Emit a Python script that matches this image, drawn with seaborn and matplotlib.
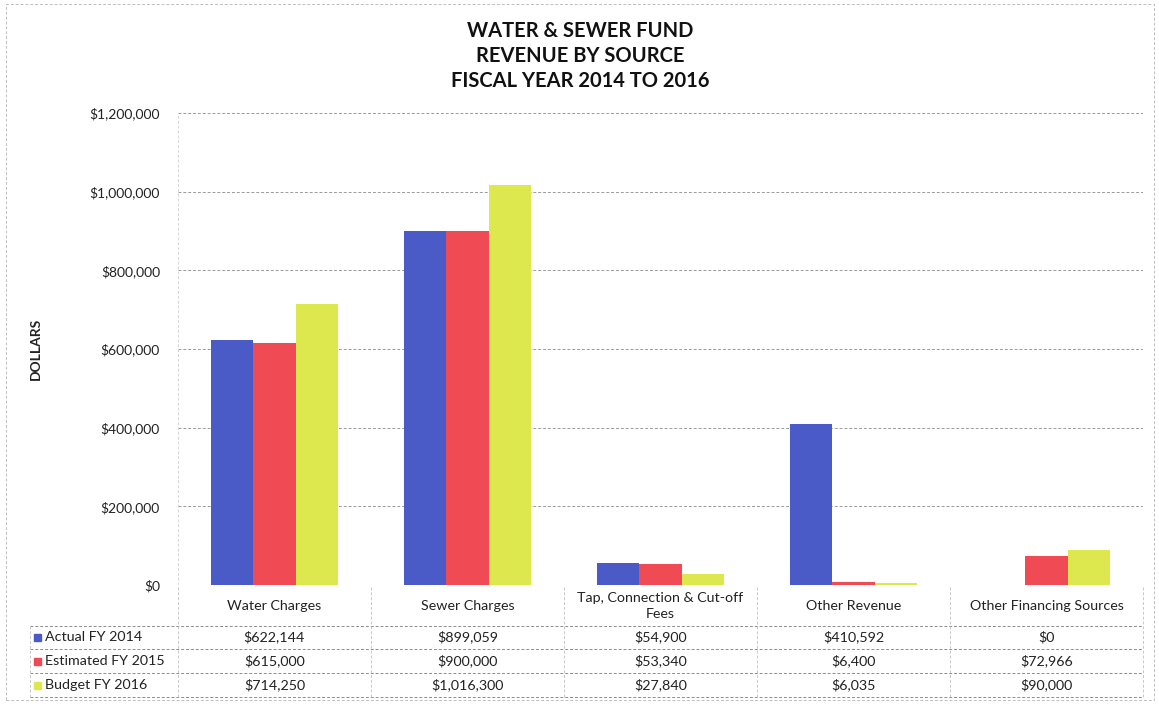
import pandas as pd
import matplotlib.pyplot as plt
import seaborn as sns
from matplotlib.transforms import blended_transform_factory
from matplotlib.patches import Rectangle
from matplotlib.ticker import FuncFormatter

sources = ['Water Charges', 'Sewer Charges', 'Tap, Connection & Cut-off\nFees',
           'Other Revenue', 'Other Financing Sources']
series = ['Actual FY 2014', 'Estimated FY 2015', 'Budget FY 2016']
actual_2014 = [622144, 899059, 54900, 410592, 0]
estimated_2015 = [615000, 900000, 53340, 6400, 72966]
budget_2016 = [714250, 1016300, 27840, 6035, 90000]
colors = ['#4a5ac6', '#f04a55', '#dde84e']

df = pd.DataFrame({'source': sources * 3,
                   'series': [s for s in series for _ in sources],
                   'amount': actual_2014 + estimated_2015 + budget_2016})

sns.set_style('white')
plt.rcParams['font.family'] = ['Lato', 'DejaVu Sans']

W, H = 1159, 704
fig = plt.figure(figsize=(W / 100, H / 100), dpi=100)
px = lambda x: x / W
py = lambda y: 1 - y / H

ax = fig.add_axes([px(178), py(585), px(1143) - px(178), py(113) - py(585)])
sns.barplot(data=df, x='source', y='amount', hue='series', palette=colors,
            width=0.66, gap=0, saturation=1, linewidth=0, legend=False, ax=ax)
ax.set_ylim(0, 1200000)
ax.set_yticks(range(0, 1200001, 200000))
ax.yaxis.set_major_formatter(FuncFormatter(lambda v, p: f'${v:,.0f}'))
ax.tick_params(axis='y', labelsize=10, length=0, pad=13, colors='#222222')
ax.set_xticks([])
ax.set_xlabel('')
ax.set_ylabel('')
ax.set_axisbelow(True)
ax.yaxis.grid(True, color='#9a9a9a', linestyle=(0, (3, 2)), linewidth=0.7)
for s in ax.spines.values():
    s.set_visible(False)
ax.axvline(-0.5, color='#d5d5d5', linestyle=(0, (3, 2)), linewidth=0.7)

fig.text(px(36), py(349), 'DOLLARS', rotation=90, ha='center', va='center',
         fontsize=10, fontweight='bold', color='#222222')

title = 'WATER & SEWER FUND\nREVENUE BY SOURCE\nFISCAL YEAR 2014 TO 2016'
fig.text(px(580), py(56), title, ha='center', va='center', fontsize=14.5,
         fontweight='bold', linespacing=1.3, color='#111111')

# data table below the plot
tr = blended_transform_factory(ax.transData, fig.transFigure)
line_kw = dict(color='#8c8c8c', linestyle=(0, (3, 2)), linewidth=0.7)
for yy in [626, 649, 673, 697]:
    fig.add_artist(plt.Line2D([px(30), px(1143)], [py(yy), py(yy)], **line_kw))
for i in range(len(sources) + 1):
    fig.add_artist(plt.Line2D([i - 0.5, i - 0.5], [py(587), py(697)],
                              transform=tr, color='#c8c8c8',
                              linestyle=(0, (3, 2)), linewidth=0.7))
fig.add_artist(plt.Line2D([px(30), px(30)], [py(626), py(697)],
                          color='#c8c8c8', linestyle=(0, (3, 2)), linewidth=0.7))

for i, name in enumerate(sources):
    fig.text(i, py(606), name, transform=tr, ha='center', va='center',
             fontsize=10.3, color='#222222', linespacing=1.3)

row_y = [637, 661, 685]
for name, vals, c, yy in zip(series, [actual_2014, estimated_2015, budget_2016], colors, row_y):
    fig.add_artist(Rectangle((px(34), py(yy) - 3.5 / H), 7 / W, 7 / H,
                             transform=fig.transFigure, color=c))
    fig.text(px(45), py(yy), name, ha='left', va='center', fontsize=10.3, color='#222222')
    for i, v in enumerate(vals):
        fig.text(i, py(yy), f'${v:,.0f}', transform=tr, ha='center', va='center',
                 fontsize=10.3, color='#222222')

# outer chart border
fig.add_artist(Rectangle((px(6), py(700)), px(1154) - px(6), py(4) - py(700),
                         transform=fig.transFigure, fill=False,
                         edgecolor='#bdbdbd', linewidth=0.7, linestyle=(0, (3, 2))))

fig.savefig('out.png', dpi=100)
